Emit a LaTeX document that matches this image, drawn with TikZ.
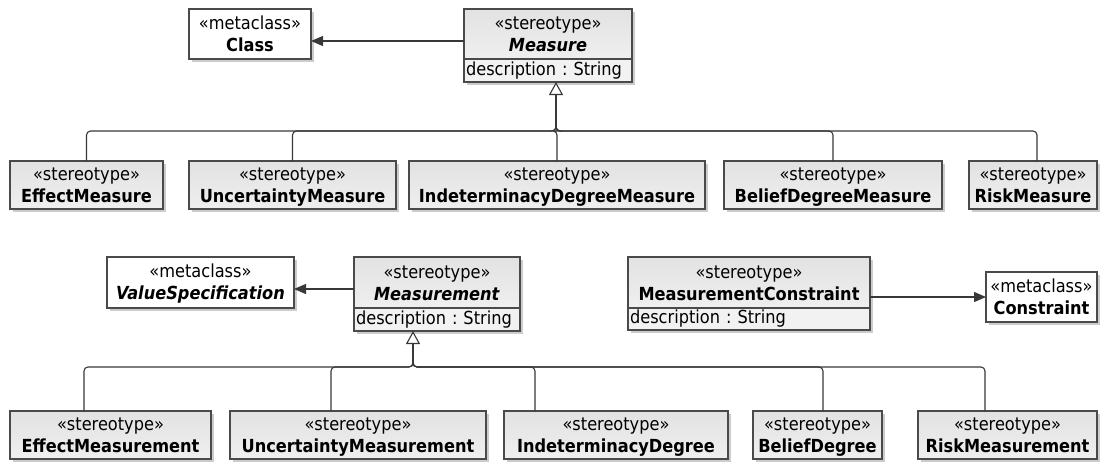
\documentclass[tikz,border=0pt]{standalone}
\usepackage{fontspec}
\setmainfont{DejaVu Sans Condensed}
\usetikzlibrary{arrows.meta,shadows}
\frenchspacing

\definecolor{boxline}{HTML}{4A4A4A}
\definecolor{wire}{HTML}{383838}
\definecolor{boxtop}{HTML}{E2E2E2}
\definecolor{boxbot}{HTML}{EFEFEF}
\definecolor{attrfill}{HTML}{F2F2F2}

% fixed line struts so every two-line label sits at the same baselines
\newcommand\rowstrut{\rule[-3pt]{0pt}{19pt}}
\newcommand\attrstrut{\rule[-4pt]{0pt}{17pt}}
\newcommand\stereo[2]{\rowstrut«#1»\\\rowstrut\textbf{#2}}

\begin{document}
\begin{tikzpicture}[x=1pt,y=-1pt,
  umlbox/.style={draw=boxline, line width=1.1pt, inner sep=0pt, outer sep=0pt,
    anchor=north west, align=center, font=\fontsize{18}{22}\selectfont,
    drop shadow={shadow xshift=2.5pt, shadow yshift=-2.5pt, opacity=0.2, fill=black}},
  stereobox/.style={umlbox, top color=boxtop, bottom color=boxbot},
  metabox/.style={umlbox, fill=white},
  attrbox/.style={umlbox, fill=attrfill, align=left, inner xsep=2pt},
  wire/.style={draw=wire, line width=1.1pt},
  bus/.style={wire, rounded corners=4pt},
  extends/.style={wire, -{Triangle[length=12pt,width=10pt]}},
  generalizes/.style={wire, -{Triangle[open,length=13pt,width=14pt,fill=white]}}]
\useasboundingbox (0,0) rectangle (1101,461);

% ---------- Measure profile ----------
\node[metabox, text width=122pt, minimum height=50pt] (cls) at (189,9)
  {\stereo{metaclass}{Class}};
\node[stereobox, text width=168pt, minimum height=50pt] (meas) at (464,9)
  {\stereo{stereotype}{\textit{Measure}}};
\node[attrbox, text width=164pt, minimum height=23pt] (measattr) at (464,59)
  {\attrstrut description : String};

\node[stereobox, text width=153pt, minimum height=48pt] (em)  at (10,161)  {\stereo{stereotype}{EffectMeasure}};
\node[stereobox, text width=207pt, minimum height=48pt] (um)  at (189,161) {\stereo{stereotype}{UncertaintyMeasure}};
\node[stereobox, text width=296pt, minimum height=48pt] (idm) at (409,161) {\stereo{stereotype}{IndeterminacyDegreeMeasure}};
\node[stereobox, text width=218pt, minimum height=48pt] (bdm) at (724,161) {\stereo{stereotype}{BeliefDegreeMeasure}};
\node[stereobox, text width=128pt, minimum height=48pt] (rm)  at (969,161) {\stereo{stereotype}{RiskMeasure}};

\draw[extends] (meas.west |- 0,41) -- (cls.east |- 0,41);

\coordinate (mbase) at (556,95);
\draw[bus] (em.north)  |- (556,131) -- (mbase);
\draw[bus] (um.north)  |- (556,131) -- (mbase);
\draw[bus] (idm.north) |- (556,131) -- (mbase);
\draw[bus] (bdm.north) |- (556,131) -- (mbase);
\draw[bus] ([xshift=4pt]rm.north) |- (556,131) -- (mbase);
\draw[generalizes] (mbase) -- (measattr.south -| mbase);

% ---------- Measurement profile ----------
\node[metabox, text width=187pt, minimum height=51pt] (vs) at (107,257)
  {\stereo{metaclass}{\textit{ValueSpecification}}};
\node[stereobox, text width=166pt, minimum height=51pt] (mt) at (354,257)
  {\stereo{stereotype}{\textit{Measurement}}};
\node[attrbox, text width=162pt, minimum height=23pt] (mtattr) at (354,308)
  {\attrstrut description : String};

\node[stereobox, text width=242pt, minimum height=51pt] (mc) at (628,257)
  {\stereo{stereotype}{MeasurementConstraint}};
\node[attrbox, text width=238pt, minimum height=22pt] (mcattr) at (628,308)
  {\attrstrut description : String};
\node[metabox, text width=111pt, minimum height=50pt] (con) at (986,272)
  {\stereo{metaclass}{Constraint}};

\node[stereobox, text width=201pt, minimum height=48pt] (em2) at (10,411)  {\stereo{stereotype}{EffectMeasurement}};
\node[stereobox, text width=256pt, minimum height=48pt] (um2) at (230,411) {\stereo{stereotype}{UncertaintyMeasurement}};
\node[stereobox, text width=224pt, minimum height=48pt] (id2) at (504,411) {\stereo{stereotype}{IndeterminacyDegree}};
\node[stereobox, text width=129pt, minimum height=48pt] (bd2) at (753,411) {\stereo{stereotype}{BeliefDegree}};
\node[stereobox, text width=179pt, minimum height=48pt] (rm2) at (918,411) {\stereo{stereotype}{RiskMeasurement}};

\draw[extends] (mt.west |- 0,289) -- (vs.east |- 0,289);
\draw[extends] (mc.east |- 0,297) -- (con.west |- 0,297);

\coordinate (tbase) at (413,345);
\draw[bus] ([xshift=-26.5pt]em2.north) |- (413,367) -- (tbase);
\draw[bus] ([xshift=-27pt]um2.north)   |- (413,367) -- (tbase);
\draw[bus] ([xshift=-81pt]id2.north)   |- (413,367) -- (tbase);
\draw[bus] ([xshift=5.5pt]bd2.north)   |- (413,367) -- (tbase);
\draw[bus] ([xshift=-22.5pt]rm2.north) |- (413,367) -- (tbase);
\draw[generalizes] (tbase) -- (mtattr.south -| tbase);
\end{tikzpicture}
\end{document}
